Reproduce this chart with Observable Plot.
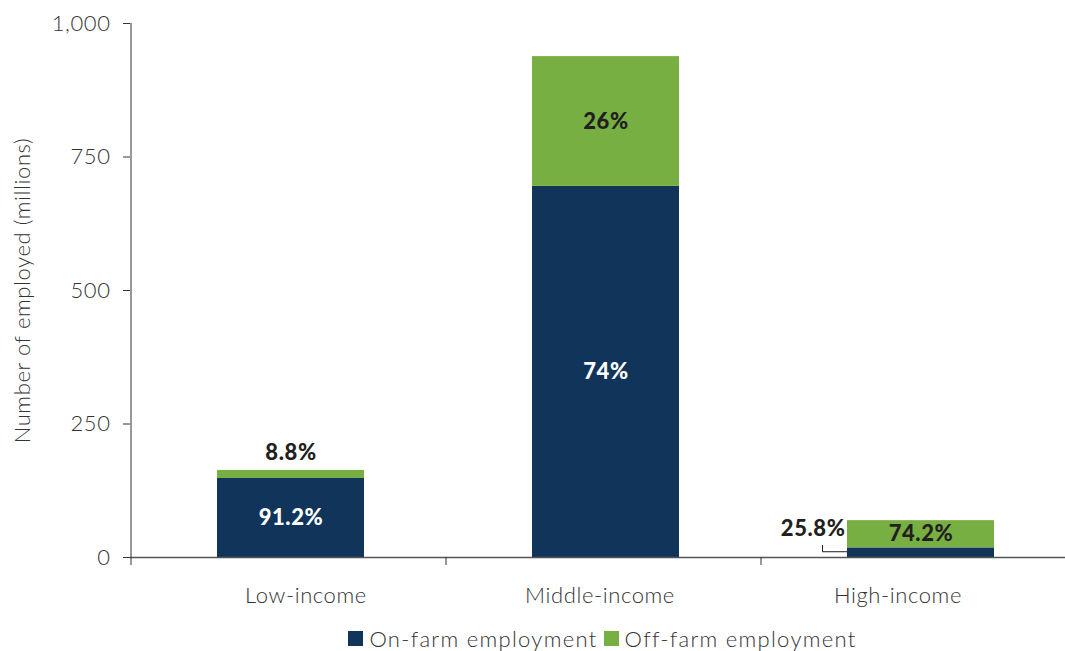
<!DOCTYPE html>
<html>
<head>
<meta charset="utf-8">
<script src="https://cdn.jsdelivr.net/npm/d3@7"></script>
<script src="https://cdn.jsdelivr.net/npm/@observablehq/plot@0.6"></script>
<style>
  html, body { margin: 0; padding: 0; background: #fff; }
  body { width: 1065px; height: 651px; overflow: hidden; font-family: Lato, "Open Sans", sans-serif; }
  #chart { width: 1065px; overflow: hidden; }
  #chart svg { display: block; max-width: none !important; }
  #legend { display: flex; justify-content: center; align-items: center; padding-left: 140px; width: 925px; height: 26px; font-size: 22px; letter-spacing: 1.3px; font-weight: 300; color: #333; }
  #legend .item { display: flex; align-items: center; margin: 0 3px; }
  #legend .sw { width: 15px; height: 15px; margin-right: 6px; display: inline-block; }
</style>
</head>
<body>
<div id="chart"></div>
<div id="legend"></div>
<script>
const categories = ["Low-income", "Middle-income", "High-income"];
const seriesNames = ["On-farm employment", "Off-farm employment"];
const seriesColors = ["#10345A", "#77AF42"];
const onFarm = [148, 695, 18];
const offFarm = [15, 243, 51];
const onFarmLabels = ["91.2%", "74%", "25.8%"];
const offFarmLabels = ["8.8%", "26%", "74.2%"];
const yTicks = [0, 250, 500, 750, 1000];

const rows = [];
categories.forEach((c, i) => {
  rows.push({cat: c, series: seriesNames[0], value: onFarm[i]});
  rows.push({cat: c, series: seriesNames[1], value: offFarm[i]});
});

const W = 1075, H = 625;
const mL = 130, mR = 0, mT = 23, mB = 68;
const step = (W - mL - mR) / categories.length;
const barW = 147;
const pad = 1 - barW / step;
const shift = 3;
// horizontal nudges of the category labels, as in the original layout
const catLabelNudge = [18, -3, -20];

const onLabelRows = categories.map((c, i) => ({cat: c, label: onFarmLabels[i], y: onFarm[i] / 2, i}));
const offLabelRows = categories.map((c, i) => ({cat: c, label: offFarmLabels[i], y: onFarm[i] + offFarm[i] / 2, total: onFarm[i] + offFarm[i], i}));

const hi = categories.length - 1;
const textFont = "Lato, 'Open Sans', sans-serif";
const lightText = {fontSize: 22, fontWeight: 300, fill: "#333"};
const boldText = {fontWeight: 900, fontSize: 22, letterSpacing: "0.5px"};

const chart = Plot.plot({
  width: W, height: H,
  marginLeft: mL, marginRight: mR, marginTop: mT, marginBottom: mB,
  style: {fontFamily: textFont, fontSize: "22px", color: "#333", background: "#fff", letterSpacing: "0.6px", maxWidth: "none"},
  x: {domain: categories, paddingInner: pad, paddingOuter: pad / 2, align: 0.5, label: null},
  y: {domain: [0, 1000], label: null},
  color: {domain: seriesNames, range: seriesColors},
  marks: [
    Plot.barY(rows, {x: "cat", y: "value", fill: "series", dx: shift}),
    // baseline
    Plot.ruleY([0], {stroke: "#555", strokeWidth: 1.5}),
    // y axis line (left boundary of the first band) and band boundary ticks
    Plot.ruleX(categories, {x: d => d, dx: -step / 2 + 0.5, y1: -15, y2: (d, i) => i === 0 ? 1000 : 0, stroke: "#333", strokeWidth: 1}),
    Plot.axisY({ticks: yTicks, tickSize: 7, tickPadding: 13, tickFormat: d3.format(","), ...lightText, stroke: "#333", label: null}),
    ...categories.map((c, i) => Plot.axisX([c], {tickSize: 0, tickPadding: 30, dx: catLabelNudge[i], ...lightText, letterSpacing: "0.9px", label: null})),
    // y axis title
    Plot.text(["Number of employed (millions)"], {frameAnchor: "left", dx: -108, y: 500, rotate: -90, textAnchor: "middle", ...lightText, letterSpacing: "1.5px", text: d => d}),
    // on-farm labels inside bars (white), except high-income
    Plot.text(onLabelRows.filter(d => d.i !== hi), {x: "cat", y: "y", text: "label", dx: shift, fill: "#fff", ...boldText}),
    // off-farm labels inside bars (dark), except low-income
    Plot.text(offLabelRows.filter(d => d.i !== 0), {x: "cat", y: "y", text: "label", dx: shift, fill: "#231F20", ...boldText}),
    // low-income off-farm label above bar
    Plot.text(offLabelRows.filter(d => d.i === 0), {x: "cat", y: "total", text: "label", dx: shift, dy: -18, fill: "#231F20", ...boldText}),
    // high-income on-farm label outside, left
    Plot.text(onLabelRows.filter(d => d.i === hi), {x: "cat", y: () => offLabelRows[hi].y, text: "label", dx: shift - barW / 2 - 2, dy: -5, textAnchor: "end", fill: "#231F20", ...boldText}),
    // leader line
    Plot.ruleX([categories[hi]], {x: d => d, dx: shift - barW / 2 - 25, y1: onFarm[hi] * 0.6, y2: onFarm[hi] * 1.25, stroke: "#231F20", strokeWidth: 1}),
    Plot.tickY([{cat: categories[hi], y: onFarm[hi] * 0.6}], {x: "cat", y: "y", dx: shift, insetLeft: -25, insetRight: barW, stroke: "#231F20", strokeWidth: 1})
  ]
});
document.getElementById("chart").appendChild(chart);

const legend = document.getElementById("legend");
seriesNames.forEach((s, i) => {
  const item = document.createElement("span");
  item.className = "item";
  const sw = document.createElement("span");
  sw.className = "sw";
  sw.style.background = seriesColors[i];
  item.appendChild(sw);
  item.appendChild(document.createTextNode(s));
  legend.appendChild(item);
});
</script>
</body>
</html>
